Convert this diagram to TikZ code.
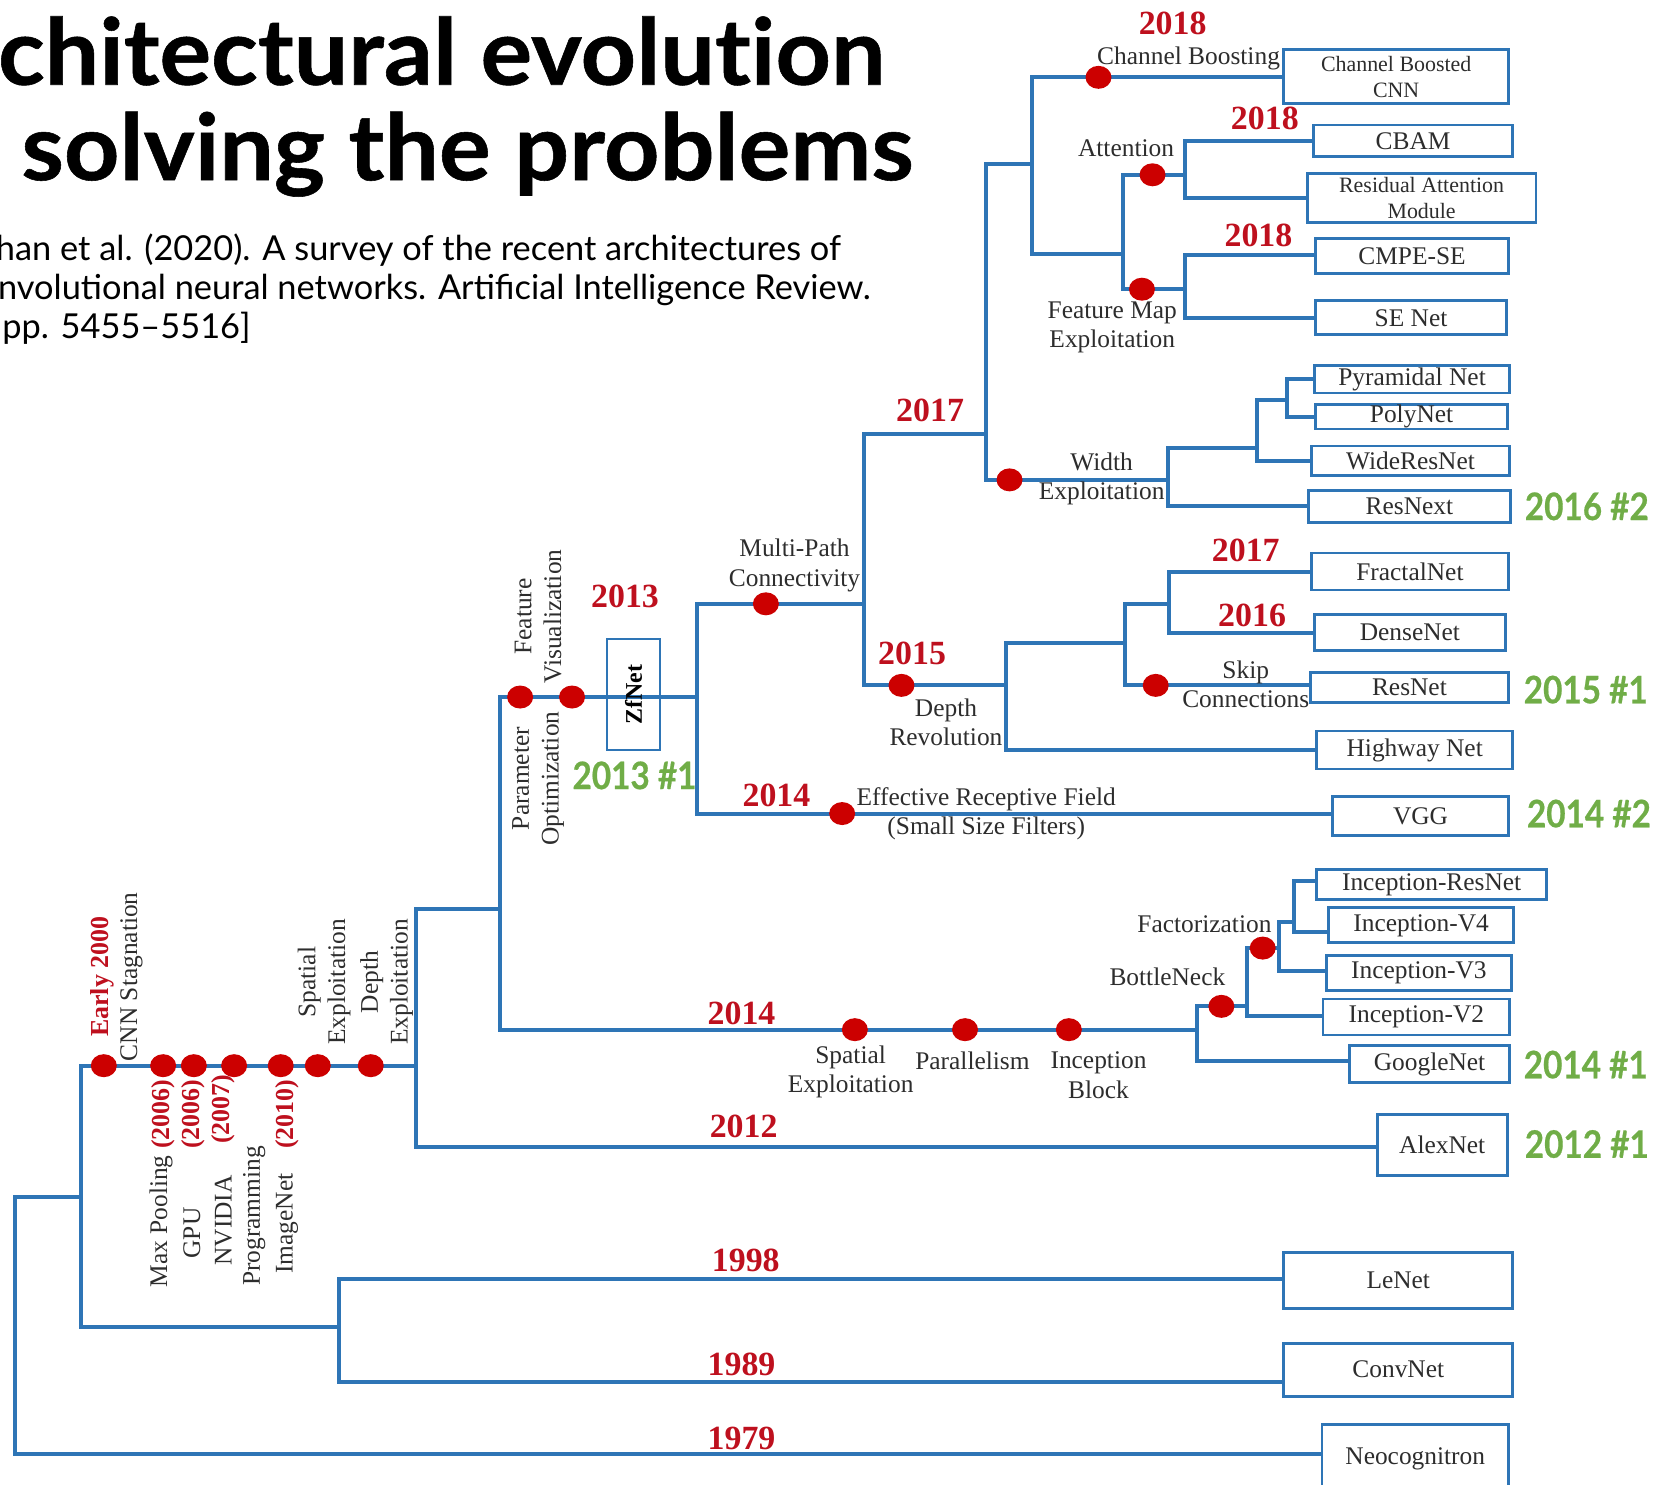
\documentclass[tikz,border=0pt]{standalone}
\usepackage{fontspec}
\setmainfont{Liberation Serif}
\newfontfamily\latofam{Lato}
\newfontfamily\ttlfam[FakeStretch=1.05,FakeBold=0.6,Ligatures=NoCommon]{Lato}
\newfontfamily\rkfam[FakeStretch=0.88,FakeBold=0.5]{Lato}
\usetikzlibrary{fit,shapes.geometric}

\definecolor{treeblue}{RGB}{46,117,182}
\definecolor{dotred}{RGB}{204,0,0}
\definecolor{yearred}{RGB}{190,16,30}
\definecolor{rankgreen}{RGB}{112,173,71}
\definecolor{inkgray}{RGB}{45,45,45}

\newcommand{\ttlfont}{\ttlfam\bfseries\fontsize{92.5}{100}\selectfont}
\newcommand{\srcfont}{\latofam\fontsize{34.5}{39}\selectfont}
\newcommand{\netfont}{\fontsize{25.5}{29.7}\selectfont}
\newcommand{\smnetfont}{\fontsize{22}{25.5}\selectfont}
\newcommand{\lblfont}{\fontsize{25.5}{29.7}\selectfont}
\newcommand{\yrfont}{\bfseries\fontsize{34}{38}\selectfont}
\newcommand{\smyrfont}{\bfseries\fontsize{26}{30}\selectfont}
\newcommand{\rkfont}{\rkfam\bfseries\fontsize{38}{42}\selectfont}

\tikzset{
  wire/.style={draw=treeblue, line width=4bp, line cap=rect},
  netbox/.style={draw=treeblue, line width=2.8bp, inner sep=0pt},
  nettext/.style={font=\netfont, text=inkgray, align=center, inner sep=0pt},
  knot/.style={ellipse, fill=dotred, minimum width=26bp, minimum height=23bp, inner sep=0pt},
  idea/.style={font=\lblfont, text=inkgray, align=center, inner sep=0pt},
  year/.style={font=\yrfont, text=yearred, inner sep=0pt},
  rank/.style={font=\rkfont, text=rankgreen, inner sep=0pt},
}

\begin{document}
\begin{tikzpicture}[x=1.0593bp, y=-1.0593bp]
\useasboundingbox (0,0) rectangle (1568,1401);

% heading and source
\node[anchor=base west, inner sep=0pt, font=\ttlfont] (ttl1) at (-2,80) {chitectural evolution};
\node[anchor=base west, inner sep=0pt, font=\ttlfont] (ttl2) at (20,170) {solving the problems};
\node[anchor=base west, inner sep=0pt, font=\srcfont] (src1) at (-4,246) {han et al. (2020). A survey of the recent architectures of};
\node[anchor=base west, inner sep=0pt, font=\srcfont] (src2) at (-2,283) {nvolutional neural networks. Artificial Intelligence Review.};
\node[anchor=base west, inner sep=0pt, font=\srcfont] (src3) at (2,320) {pp. 5455–5516]};

% architectures
\node[netbox, fit={(1212,47) (1424,98)}, label={[nettext, font=\smnetfont]center:{Channel Boosted\\CNN}}] (cbcnn) {};
\node[netbox, fit={(1240,118) (1428,148)}, label={[nettext]center:CBAM}] (cbam) {};
\node[netbox, fit={(1234,164) (1450,210)}, label={[nettext, font=\smnetfont]center:{Residual Attention\\Module}}] (ram) {};
\node[netbox, fit={(1242,225) (1424,258)}, label={[nettext]center:CMPE-SE}] (cmpe) {};
\node[netbox, fit={(1242,284) (1422,316)}, label={[nettext]center:SE Net}] (senet) {};
\node[netbox, fit={(1241,345) (1425,371)}, label={[nettext]center:Pyramidal Net}] (pyramid) {};
\node[netbox, fit={(1242,382) (1423,405)}, label={[nettext]center:PolyNet}] (polynet) {};
\node[netbox, fit={(1238,421) (1425,449)}, label={[nettext]center:WideResNet}] (wideres) {};
\node[netbox, fit={(1235,463) (1426,493)}, label={[nettext]center:ResNext}] (resnext) {};
\node[netbox, fit={(1238,522) (1424,557)}, label={[nettext]center:FractalNet}] (fractal) {};
\node[netbox, fit={(1241,580) (1421,614)}, label={[nettext]center:DenseNet}] (densenet) {};
\node[netbox, fit={(1237,635) (1424,663)}, label={[nettext]center:ResNet}] (resnet) {};
\node[netbox, fit={(1243,690) (1428,726)}, label={[nettext]center:Highway Net}] (highway) {};
\node[netbox, fit={(1258,752) (1424,789)}, label={[nettext]center:VGG}] (vgg) {};
\node[netbox, fit={(1243,821) (1460,849)}, label={[nettext]center:Inception-ResNet}] (incres) {};
\node[netbox, fit={(1254,857) (1429,890)}, label={[nettext]center:Inception-V4}] (incv4) {};
\node[netbox, fit={(1252,902) (1427,935)}, label={[nettext]center:Inception-V3}] (incv3) {};
\node[netbox, fit={(1249,943) (1425,977)}, label={[nettext]center:Inception-V2}] (incv2) {};
\node[netbox, fit={(1274,987) (1425,1022)}, label={[nettext]center:GoogleNet}] (googlenet) {};
\node[netbox, fit={(1300,1052) (1423,1110)}, label={[nettext]center:AlexNet}] (alexnet) {};
\node[netbox, fit={(1212,1182) (1428,1235)}, label={[nettext]center:LeNet}] (lenet) {};
\node[netbox, fit={(1212,1268) (1428,1318)}, label={[nettext]center:ConvNet}] (convnet) {};
\node[netbox, fit={(1248,1345) (1424,1410)}, label={[nettext]center:Neocognitron}] (neocog) {};

% branch points
\coordinate (a0) at (14,1130);   \coordinate (a1) at (14,1373);
\coordinate (b0) at (76,1006);   \coordinate (b1) at (76,1253);
\coordinate (c0) at (320,1207);  \coordinate (c1) at (320,1305);
\coordinate (d0) at (393,858);   \coordinate (d1) at (393,1083);
\coordinate (e0) at (472,658);   \coordinate (e1) at (472,972);
\coordinate (f0) at (658,570);   \coordinate (f1) at (658,768);
\coordinate (g0) at (816,410);   \coordinate (g1) at (816,647);
\coordinate (h0) at (931,155);   \coordinate (h1) at (931,453);
\coordinate (i0) at (974,73);    \coordinate (i1) at (974,240);
\coordinate (j0) at (1060,165);  \coordinate (j1) at (1060,273);
\coordinate (k0) at (1119,133);  \coordinate (k1) at (1119,187);
\coordinate (l0) at (1119,241);  \coordinate (l1) at (1119,300);
\coordinate (m0) at (1103,423);  \coordinate (m1) at (1103,478);
\coordinate (n0) at (1187,378);  \coordinate (n1) at (1187,435);
\coordinate (o0) at (1215,358);  \coordinate (o1) at (1215,394);
\coordinate (p0) at (950,607);   \coordinate (p1) at (950,708);
\coordinate (q0) at (1062,570);  \coordinate (q1) at (1062,647);
\coordinate (r0) at (1104,540);  \coordinate (r1) at (1104,598);
\coordinate (s0) at (1130,950);  \coordinate (s1) at (1130,1002);
\coordinate (t0) at (1177,895);  \coordinate (t1) at (1177,959);
\coordinate (u0) at (1207,870);  \coordinate (u1) at (1207,917);
\coordinate (v0) at (1222,832);  \coordinate (v1) at (1222,880);

% tree
\draw[wire] (a0) -- (a1) -- (neocog.west |- a1);
\draw[wire] (a0) -- (a0 -| b0);
\draw[wire] (b0) -- (b1) -- (b1 -| c0);
\draw[wire] (c0) -- (c1) -- (convnet.west |- c1);
\draw[wire] (c0) -- (lenet.west |- c0);
\draw[wire] (b0) -- (b0 -| d0);
\draw[wire] (d0) -- (d1) -- (alexnet.west |- d1);
\draw[wire] (d0) -- (d0 -| e0);
\draw[wire] (e0) -- (e1) -- (e1 -| s0);
\draw[wire] (e0) -- (e0 -| f0);
\draw[wire] (f0) -- (f1) -- (vgg.west |- f1);
\draw[wire] (f0) -- (f0 -| g0);
\draw[wire] (g0) -- (g1) -- (g1 -| p0);
\draw[wire] (g0) -- (g0 -| h0);
\draw[wire] (h0) -- (h1) -- (h1 -| m0);
\draw[wire] (h0) -- (h0 -| i0);
\draw[wire] (i0) -- (i1) -- (i1 -| j0);
\draw[wire] (i0) -- (cbcnn.west |- i0);
\draw[wire] (j0) -- (j1) -- (j1 -| l0);
\draw[wire] (j0) -- (j0 -| k0);
\draw[wire] (k0) -- (k1) -- (ram.west |- k1);
\draw[wire] (k0) -- (cbam.west |- k0);
\draw[wire] (l0) -- (l1) -- (senet.west |- l1);
\draw[wire] (l0) -- (cmpe.west |- l0);
\draw[wire] (m0) -- (m1) -- (resnext.west |- m1);
\draw[wire] (m0) -- (m0 -| n0);
\draw[wire] (n0) -- (n1) -- (wideres.west |- n1);
\draw[wire] (n0) -- (n0 -| o0);
\draw[wire] (o0) -- (o1) -- (polynet.west |- o1);
\draw[wire] (o0) -- (pyramid.west |- o0);
\draw[wire] (p0) -- (p1) -- (highway.west |- p1);
\draw[wire] (p0) -- (p0 -| q0);
\draw[wire] (q0) -- (q1) -- (resnet.west |- q1);
\draw[wire] (q0) -- (q0 -| r0);
\draw[wire] (r0) -- (r1) -- (densenet.west |- r1);
\draw[wire] (r0) -- (fractal.west |- r0);
\draw[wire] (s0) -- (s1) -- (googlenet.west |- s1);
\draw[wire] (s0) -- (s0 -| t0);
\draw[wire] (t0) -- (t1) -- (incv2.west |- t1);
\draw[wire] (t0) -- (t0 -| u0);
\draw[wire] (u0) -- (u1) -- (incv3.west |- u1);
\draw[wire] (u0) -- (u0 -| v0);
\draw[wire] (v0) -- (v1) -- (incv4.west |- v1);
\draw[wire] (v0) -- (incres.west |- v0);

\node[draw=treeblue, line width=1.5bp, fit={(573,603) (623,708)}, inner sep=0pt] (zfnet) {};
\node[rotate=90, font=\bfseries\fontsize{24}{28}\selectfont, inner sep=0pt] (zflbl) at (zfnet.center) {ZfNet};

% milestones
\node[knot] (k1) at (98,1006) {};
\node[knot] (k2) at (154,1006) {};
\node[knot] (k3) at (183,1006) {};
\node[knot] (k4) at (221,1006) {};
\node[knot] (k5) at (265,1006) {};
\node[knot] (k6) at (300,1006) {};
\node[knot] (k7) at (350,1006) {};
\node[knot] (k8) at (491,658) {};
\node[knot] (k9) at (540,658) {};
\node[knot] (k10) at (723,570) {};
\node[knot] (k11) at (851,647) {};
\node[knot] (k12) at (795,768) {};
\node[knot] (k13) at (953,453) {};
\node[knot] (k14) at (1091,647) {};
\node[knot] (k15) at (1037,73) {};
\node[knot] (k16) at (1088,165) {};
\node[knot] (k17) at (1078,273) {};
\node[knot] (k18) at (807,972) {};
\node[knot] (k19) at (911,972) {};
\node[knot] (k20) at (1009,972) {};
\node[knot] (k21) at (1153,950) {};
\node[knot] (k22) at (1192,895) {};

% years
\node[year] (y18a) at (1107,22) {2018};
\node[year] (y18b) at (1194,112) {2018};
\node[year] (y18c) at (1188,222) {2018};
\node[year] (y17a) at (878,387) {2017};
\node[year] (y17b) at (1176,520) {2017};
\node[year] (y16) at (1182,581) {2016};
\node[year] (y15) at (861,617) {2015};
\node[year] (y13) at (590,563) {2013};
\node[year] (y14a) at (733,751) {2014};
\node[year] (y14b) at (700,957) {2014};
\node[year] (y12) at (702,1063) {2012};
\node[year] (y98) at (704,1190) {1998};
\node[year] (y89) at (700,1288) {1989};
\node[year] (y79) at (700,1358) {1979};

% ideas
\node[idea] (chb) at (1122,55) {Channel Boosting};
\node[idea] (att) at (1063,140) {Attention};
\node[idea] (fme) at (1050,309) {Feature Map\\Exploitation};
\node[idea] (wex) at (1040,452) {Width\\Exploitation};
\node[idea] (skip) at (1176,646) {Skip\\Connections};
\node[idea] (drev) at (893,682) {Depth\\Revolution};
\node[idea] (mpc) at (750,534) {Multi-Path\\Connectivity};
\node[idea] (erf) at (931,768) {Effective Receptive Field\\(Small Size Filters)};
\node[idea] (fact) at (1137,872) {Factorization};
\node[idea] (bneck) at (1102,922) {BottleNeck};
\node[idea] (spx) at (803,1012) {Spatial\\Exploitation};
\node[idea] (par) at (918,1001) {Parallelism};
\node[idea] (iblk) at (1037,1015) {Inception\\Block};
\node[idea, rotate=90] (fvis) at (508,582) {Feature\\Visualization};
\node[idea, rotate=90] (popt) at (508,735) {Parameter\\Optimization};
\node[idea, rotate=90] (stag) at (124,922) {CNN Stagnation};
\node[idea, rotate=90] (spx0) at (306,927) {Spatial\\Exploitation};
\node[idea, rotate=90] (dex0) at (365,927) {Depth\\Exploitation};
\node[idea, rotate=90] (maxp) at (152,1153) {Max Pooling};
\node[idea, rotate=90] (gpu) at (181,1164) {GPU};
\node[idea, rotate=90] (nvid) at (211,1152) {NVIDIA};
\node[idea, rotate=90] (prog) at (240,1148) {Programming};
\node[idea, rotate=90] (imgn) at (271,1155) {ImageNet};
\node[year, rotate=90, font=\smyrfont] (early) at (97,922) {Early 2000};
\node[year, rotate=90, font=\smyrfont] (yr06a) at (154,1052) {(2006)};
\node[year, rotate=90, font=\smyrfont] (yr06b) at (182,1052) {(2006)};
\node[year, rotate=90, font=\smyrfont] (yr07) at (211,1047) {(2007)};
\node[year, rotate=90, font=\smyrfont] (yr10) at (271,1052) {(2010)};

% ranks
\node[rank] (rk13) at (599,732) {2013 \#1};
\node[rank] (rk16) at (1498,478) {2016 \#2};
\node[rank] (rk15) at (1497,651) {2015 \#1};
\node[rank] (rk14b) at (1500,768) {2014 \#2};
\node[rank] (rk14a) at (1497,1005) {2014 \#1};
\node[rank] (rk12) at (1498,1080) {2012 \#1};
\end{tikzpicture}
\end{document}
